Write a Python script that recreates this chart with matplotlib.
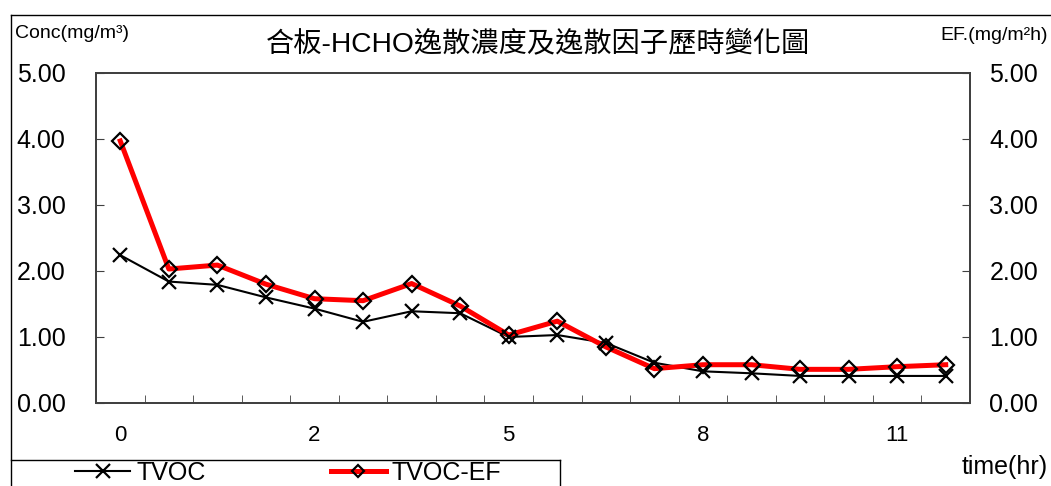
import numpy as np
import matplotlib.pyplot as plt
from matplotlib.lines import Line2D

plt.rcParams['font.family'] = ['Liberation Sans', 'Noto Sans CJK TC']

# 時間軸標籤 (每4點標一次)
time_labels = ['0', '', '', '', '2', '', '', '', '5', '', '', '', '8', '', '', '', '11', '']
# 濃度 (mg/m3)
tvoc = [2.24, 1.84, 1.79, 1.60, 1.43, 1.23, 1.39, 1.36, 1.00, 1.03,
        0.91, 0.61, 0.48, 0.45, 0.41, 0.41, 0.41, 0.41]
# 逸散因子 (mg/m2h)
tvoc_ef = [3.97, 2.03, 2.09, 1.80, 1.58, 1.55, 1.81, 1.47, 1.03, 1.24,
           0.85, 0.52, 0.58, 0.58, 0.51, 0.51, 0.55, 0.58]

W, H = 1051, 486
fig = plt.figure(figsize=(W / 100, H / 100), dpi=100)
ax = fig.add_axes([96 / W, 1 - 403 / H, (970 - 96) / W, (403 - 73) / H])

x = np.arange(len(tvoc))
ax.plot(x, tvoc, color='black', lw=1.5, zorder=2)
ax.plot(x, tvoc_ef, color='red', lw=3.6, zorder=3)
ax.plot(x, tvoc, ls='none', marker='x', ms=9.5, mew=1.6, color='black', zorder=4)
ax.plot(x, tvoc_ef, ls='none', marker='D', ms=7.8, mfc='none', mec='black', mew=1.6, zorder=5)

ax.set_xlim(-0.5, len(tvoc) - 0.5)
ax.set_ylim(0, 5)
ax.set_xticks(x)
ax.set_xticklabels(time_labels)
ax.set_xticks(np.arange(0.5, len(tvoc) - 1, 1), minor=True)
ax.tick_params(axis='x', which='major', length=0, labelsize=16, pad=16)
ax.tick_params(axis='x', which='minor', direction='in', length=5.5, color='#404040')

yt = np.arange(0, 5.01, 1)
ax.set_yticks(yt)
ax.yaxis.set_major_formatter('{x:.2f}')
ax.tick_params(axis='y', direction='in', length=5.8, labelsize=18, pad=22, color='#404040')

ax2 = ax.twinx()
ax2.set_ylim(0, 5)
ax2.set_yticks(yt)
ax2.yaxis.set_major_formatter('{x:.2f}')
ax2.tick_params(axis='y', direction='in', length=5.8, labelsize=18, pad=14, color='#404040')

for a in (ax, ax2):
    for s in a.spines.values():
        s.set_color('#404040')
        s.set_linewidth(1.3)

# 文字
fig.text(15 / W, 1 - 33 / H, 'Conc(mg/m³)', fontsize=14, ha='left', va='center')
fig.text(1048 / W, 1 - 35 / H, 'EF.(mg/m²h)', fontsize=14, ha='right', va='center')
fig.text(538 / W, 1 - 44 / H, '合板-HCHO逸散濃度及逸散因子歷時變化圖', fontsize=20.3,
         ha='center', va='center')
fig.text(1048 / W, 1 - 467 / H, 'time(hr)', fontsize=18, ha='right', va='center')

# 外框
fig.add_artist(Line2D([11 / W, 11 / W], [0, 1 - 15 / H], transform=fig.transFigure, color='black', lw=1))
fig.add_artist(Line2D([11 / W, 1], [1 - 15 / H, 1 - 15 / H], transform=fig.transFigure, color='black', lw=1))

# 圖例框
fig.add_artist(Line2D([11 / W, 560 / W], [1 - 460 / H, 1 - 460 / H], transform=fig.transFigure, color='black', lw=1))
fig.add_artist(Line2D([560 / W, 560 / W], [0, 1 - 460 / H], transform=fig.transFigure, color='black', lw=1))

handles = [
    Line2D([], [], color='black', lw=1.5, marker='x', ms=9.5, mew=1.6),
    Line2D([], [], color='red', lw=3.6, marker='D', ms=6, mfc='none', mec='black', mew=1.6),
]
fig.legend(handles, ['TVOC', 'TVOC-EF'], loc='center left', bbox_to_anchor=(75 / W, 1 - 473 / H),
           ncol=2, frameon=False, fontsize=18, borderpad=0, borderaxespad=0,
           handlelength=2.2, handletextpad=0.25, columnspacing=5.0)

fig.savefig('out.png', dpi=100)
